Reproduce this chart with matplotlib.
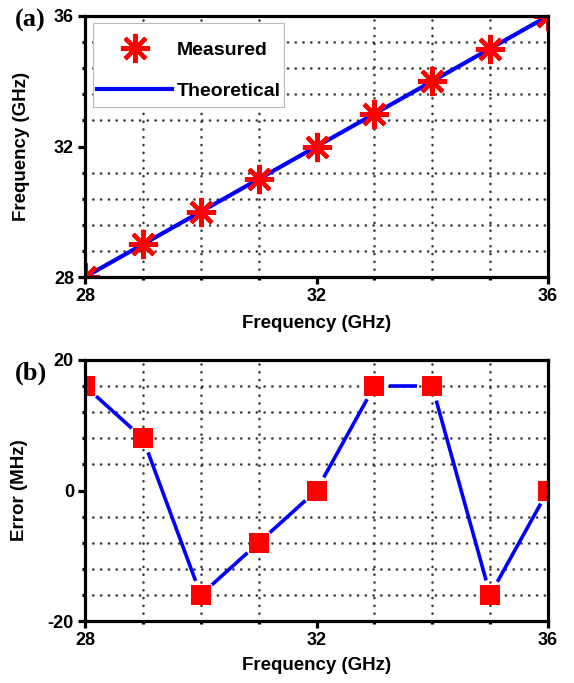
import numpy as np
import matplotlib
matplotlib.use("Agg")
import matplotlib.pyplot as plt
from matplotlib.ticker import MultipleLocator
from matplotlib.patches import Rectangle

# ---- data ----
freq_set = [28, 29, 30, 31, 32, 33, 34, 35, 36]           # GHz
freq_measured = [28, 29, 30, 31, 32, 33, 34, 35, 36]      # GHz
theory_x = [28, 36]
theory_y = [28, 36]
error_mhz = [16, 8, -16, -8, 0, 16, 16, -16, 0]           # MHz

x_ticks = [28, 32, 36]
top_y_ticks = [28, 32, 36]
bot_y_ticks = [-20, 0, 20]

SANS = ["Liberation Sans", "DejaVu Sans"]
SERIF = ["Liberation Serif", "DejaVu Serif"]
plt.rcParams["font.family"] = SANS
plt.rcParams["font.weight"] = "bold"
plt.rcParams["axes.unicode_minus"] = False

DPI = 100
fig = plt.figure(figsize=(5.74, 6.83), dpi=DPI)
W, H = 574, 683


def axes_at(x0, y0, x1, y1):
    return fig.add_axes([x0 / W, 1 - y1 / H, (x1 - x0) / W, (y1 - y0) / H])


AX1 = (85, 16, 548, 277)
AX2 = (85, 360, 548, 621)
ax1 = axes_at(*AX1)
ax2 = axes_at(*AX2)

grid_kw = dict(color="#3c3c3c", linestyle=(0, (0.05, 2.9)), linewidth=1.9,
               dash_capstyle="round")


def style(ax, ylo, yhi, yminor):
    ax.set_xlim(28, 36)
    ax.set_ylim(ylo, yhi)
    ax.set_xticks(x_ticks)
    ax.xaxis.set_minor_locator(MultipleLocator(1))
    ax.yaxis.set_minor_locator(MultipleLocator(yminor))
    for s in ax.spines.values():
        s.set_linewidth(2.3)
        s.set_zorder(5)
    ax.tick_params(which="major", direction="out", length=5, width=2.3,
                   labelsize=13, pad=3)
    ax.tick_params(which="minor", direction="out", length=2.5, width=2.3)
    ax.grid(True, which="minor", **grid_kw)
    ax.set_axisbelow(True)
    for lab in ax.get_xticklabels() + ax.get_yticklabels():
        lab.set_fontweight("bold")


def px_to_axes(ax_box, x, y):
    x0, y0, x1, y1 = ax_box
    return (x - x0) / (x1 - x0), (y1 - y) / (y1 - y0)


# ---- (a) measured vs theoretical frequency ----
style(ax1, 28, 36, 0.8)
ax1.set_yticks(top_y_ticks)
ax1.plot(theory_x, theory_y, color="#0000ff", linewidth=3, zorder=3,
         label="Theoretical")
ax1.plot(freq_set, freq_measured, linestyle="none", marker=(8, 2, 0),
         markersize=21, markeredgewidth=3.0, color="#ff0000", zorder=4,
         label="Measured")

# legend box
bx0, by1 = px_to_axes(AX1, 93, 107)
bx1, by0 = px_to_axes(AX1, 284, 23)
ax1.add_patch(Rectangle((bx0, by1), bx1 - bx0, by0 - by1, transform=ax1.transAxes,
                        facecolor="white", edgecolor="#bbbbbb", linewidth=0.8,
                        zorder=6))
handles, labels = ax1.get_legend_handles_labels()
lx, ly = px_to_axes(AX1, 97, 41)
leg = ax1.legend(handles[::-1], labels[::-1], loc="upper left",
                 bbox_to_anchor=(lx, ly), frameon=False,
                 prop=dict(family=SANS, weight="bold", size=14),
                 handlelength=3.86, handletextpad=0.26, labelspacing=1.2,
                 borderpad=0, borderaxespad=0)
leg.set_zorder(7)
ax1.set_xlabel("Frequency (GHz)", fontsize=13.5, fontweight="bold")
ax1.set_ylabel("Frequency (GHz)", fontsize=13.5, fontweight="bold")
ax1.xaxis.set_label_coords(0.5, -0.145)
ax1.yaxis.set_label_coords(-0.119, 0.5)

# ---- (b) frequency error ----
style(ax2, -20, 20, 4)
ax2.set_yticks(bot_y_ticks)

# connecting segments stop short of the square markers
gap_px = 15
pts = ax2.transData.transform(np.column_stack([freq_set, error_mhz]))
inv = ax2.transData.inverted()
for p, q in zip(pts[:-1], pts[1:]):
    d = q - p
    n = np.hypot(*d)
    if n <= 2 * gap_px:
        continue
    u = d / n
    seg = inv.transform(np.array([p + u * gap_px, q - u * gap_px]))
    ax2.plot(seg[:, 0], seg[:, 1], color="#0000ff", linewidth=2.6,
             solid_capstyle="butt", zorder=3)
ax2.plot(freq_set, error_mhz, linestyle="none", marker="s", markersize=14.5,
         markeredgewidth=0, color="#ff0000", zorder=4)
ax2.set_xlabel("Frequency (GHz)", fontsize=13.5, fontweight="bold")
ax2.set_ylabel("Error (MHz)", fontsize=13.5, fontweight="bold")
ax2.xaxis.set_label_coords(0.5, -0.138)
ax2.yaxis.set_label_coords(-0.123, 0.5)

# panel tags
fig.text(15 / W, 1 - 20 / H, "(a)", family=SERIF, weight="bold", fontsize=19,
         ha="left", va="center")
fig.text(15 / W, 1 - 373 / H, "(b)", family=SERIF, weight="bold", fontsize=19,
         ha="left", va="center")

fig.savefig("out.png", dpi=DPI)
